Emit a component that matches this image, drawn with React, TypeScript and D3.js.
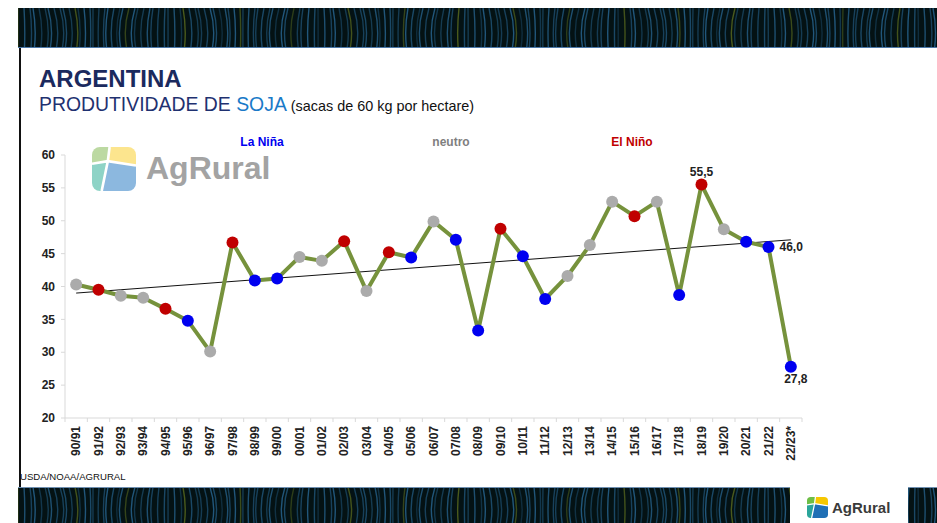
import React from 'react';
import * as d3 from 'd3';

const seasons = ["90/91","91/92","92/93","93/94","94/95","95/96","96/97","97/98","98/99","99/00","00/01","01/02","02/03","03/04","04/05","05/06","06/07","07/08","08/09","09/10","10/11","11/12","12/13","13/14","14/15","15/16","16/17","17/18","18/19","19/20","20/21","21/22","22/23*"];
const yields = [40.3,39.5,38.6,38.3,36.6,34.8,30.1,46.7,40.9,41.2,44.5,43.9,46.9,39.3,45.2,44.4,49.9,47.1,33.3,48.8,44.6,38.1,41.6,46.3,52.9,50.7,52.9,38.7,55.5,48.7,46.8,46.0,27.8];
// n = neutro, e = El Niño, l = La Niña
const phases = ["n","e","n","n","e","l","n","e","l","l","n","n","e","n","e","l","n","l","l","e","l","l","n","n","n","e","n","l","e","n","l","l","l"];
const yTicks = [20,25,30,35,40,45,50,55,60];
const trendStart = 39.0;
const trendEnd = 47.1;
const legendItems = [
  { label: "La Niña", phase: "l", x: 262 },
  { label: "neutro", phase: "n", x: 451 },
  { label: "El Niño", phase: "e", x: 632 },
];
const phaseColor: Record<string, string> = { n: "#ABABAB", e: "#C00000", l: "#0000F0" };

const FONT = "'Liberation Sans', Arial, sans-serif";

function Banner({ x, y, w, h, id, edge }: { x: number; y: number; w: number; h: number; id: string; edge: "top" | "bottom" }) {
  const lines = d3.range(0, Math.ceil(w / 5)).map((i) => {
    const lx = x + i * 5 + ((i * 7) % 3);
    const bend = Math.sin(i * 0.21) * 6;
    const col = i % 11 === 0 ? "#4a5a1c" : i % 4 === 0 ? "#17405a" : "#21567a";
    return { lx, bend, col, op: 0.6 + ((i * 13) % 5) / 10 };
  });
  return (
    <g>
      <clipPath id={id}><rect x={x} y={y} width={w} height={h} /></clipPath>
      <rect x={x} y={y} width={w} height={h} fill="#041214" />
      <g clipPath={`url(#${id})`}>
        {lines.map((l, i) => (
          <path key={i} d={`M${l.lx},${y} Q${l.lx + l.bend},${y + h / 2} ${l.lx + l.bend * 0.4},${y + h}`} stroke={l.col} strokeWidth={1.4} fill="none" opacity={Math.min(1, l.op)} />
        ))}
      </g>
      {edge === "bottom" ? (
        <line x1={x} x2={x + w} y1={y + h - 0.5} y2={y + h - 0.5} stroke="#4c78a8" strokeWidth={1} />
      ) : (
        <line x1={x} x2={x + w} y1={y + 0.5} y2={y + 0.5} stroke="#6f8fb0" strokeWidth={1} />
      )}
    </g>
  );
}

function LogoIcon({ x, y, s, vivid }: { x: number; y: number; s: number; vivid: boolean }) {
  const c = vivid
    ? { g: "#6DBE45", y: "#F6C700", t: "#2AA59A", b: "#1F6FB5" }
    : { g: "#BCD9A2", y: "#FCE58E", t: "#8ED3C6", b: "#8CB8DF" };
  const id = vivid ? "iconclipV" : "iconclipW";
  return (
    <g transform={`translate(${x},${y}) scale(${s})`}>
      <clipPath id={id}><rect x={0} y={0} width={100} height={100} rx={18} /></clipPath>
      <g clipPath={`url(#${id})`}>
        <polygon points="0,0 40,0 36,32 0,38" fill={c.g} />
        <polygon points="40,0 100,0 100,42 36,32" fill={c.y} />
        <polygon points="0,38 36,32 22,100 0,100" fill={c.t} />
        <polygon points="36,32 100,42 100,100 22,100" fill={c.b} />
        <path d="M40,0 L36,32 L22,100 M0,38 L36,32 L100,42" stroke="#fff" strokeWidth={6} fill="none" />
      </g>
    </g>
  );
}

export default function App() {
  const W = 937, H = 523;
  const x = d3.scaleBand<string>().domain(seasons).range([65, 802]).paddingInner(0).paddingOuter(0);
  const y = d3.scaleLinear().domain([20, 60]).range([418, 155]);
  const cx = (i: number) => (x(seasons[i]) as number) + x.bandwidth() / 2;
  const line = d3.line<number>().x((_, i) => cx(i)).y((d) => y(d));
  const xEdges = seasons.map((s) => x(s) as number).concat([802]);

  return (
    <svg width={W} height={H} style={{ position: "absolute", left: 0, top: 0 }} fontFamily={FONT}>
      <rect x={0} y={0} width={W} height={H} fill="#fff" />
      <Banner x={18} y={8} w={919} h={40} id="bt" edge="bottom" />
      <Banner x={18} y={487} w={919} h={36} id="bb" edge="top" />
      <line x1={20} y1={48} x2={20} y2={487} stroke="#111" strokeWidth={2} />
      <rect x={790} y={487} width={118} height={36} fill="#fff" />
      <LogoIcon x={807} y={497} s={0.21} vivid={true} />
      <text x={832} y={513} fontSize={15} fontWeight="bold" fill="#3a3a3a">AgRural</text>

      <text x={39} y={87} fontSize={24} fontWeight="bold" fill="#1B2A5E">ARGENTINA</text>
      <text x={39} y={111} fontSize={19.4} fill="#1F3170">
        PRODUTIVIDADE DE <tspan fill="#1A7AC8">SOJA</tspan>
        <tspan fontSize={14.4} fill="#111"> (sacas de 60 kg por hectare)</tspan>
      </text>

      {/* watermark logo */}
      <LogoIcon x={92} y={147} s={0.44} vivid={false} />
      <text x={146} y={179} fontSize={32} fontWeight="bold" fill="#A3A3A3">AgRural</text>

      {legendItems.map((l) => (
        <text key={l.label} x={l.x} y={146} fontSize={12} fontWeight="bold" textAnchor="middle" fill={l.phase === "n" ? "#7f7f7f" : phaseColor[l.phase]}>{l.label}</text>
      ))}

      {/* axes */}
      <line x1={65} y1={155} x2={65} y2={418} stroke="#D9D9D9" />
      <line x1={65} y1={418} x2={802} y2={418} stroke="#D9D9D9" />
      {yTicks.map((t) => (
        <g key={t}>
          <line x1={61} x2={65} y1={y(t)} y2={y(t)} stroke="#D9D9D9" />
          <text x={55} y={y(t)} dy="0.35em" textAnchor="end" fontSize={12} fontWeight="bold" fill="#222">{t}</text>
        </g>
      ))}
      {xEdges.map((e, i) => (
        <line key={i} x1={e} x2={e} y1={418} y2={422} stroke="#D9D9D9" />
      ))}
      {seasons.map((s, i) => (
        <text key={s} transform={`translate(${cx(i)},426) rotate(-90)`} dy="0.35em" textAnchor="end" fontSize={12} fontWeight="bold" fill="#222">{s}</text>
      ))}

      {/* trend */}
      <line x1={cx(0)} y1={y(trendStart)} x2={cx(seasons.length - 1)} y2={y(trendEnd)} stroke="#111" strokeWidth={1} />
      <path d={line(yields) || ""} fill="none" stroke="#76923C" strokeWidth={4} strokeLinejoin="round" />
      {yields.map((v, i) => (
        <circle key={i} cx={cx(i)} cy={y(v)} r={6} fill={phaseColor[phases[i]]} />
      ))}

      <text x={cx(28)} y={y(yields[28]) - 9} textAnchor="middle" fontSize={12} fontWeight="bold" fill="#222">55,5</text>
      <text x={cx(31) + 11} y={y(yields[31]) + 4} textAnchor="start" fontSize={12} fontWeight="bold" fill="#222">46,0</text>
      <text x={cx(32) + 5} y={y(yields[32]) + 16} textAnchor="middle" fontSize={12} fontWeight="bold" fill="#222">27,8</text>

      <text x={20} y={480} fontSize={9.6} fill="#111">USDA/NOAA/AGRURAL</text>
    </svg>
  );
}
